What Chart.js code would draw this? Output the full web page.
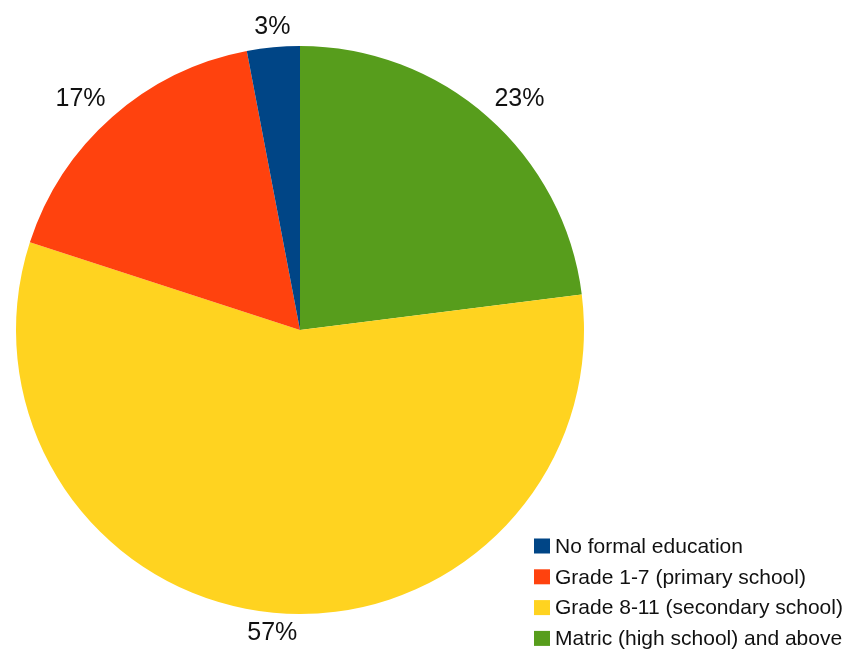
<!DOCTYPE html>
<html lang="en">
<head>
    <meta charset="UTF-8">
    <title>Education level</title>
    <style>
        body {
            margin: 0;
            background: #ffffff;
        }
        #eduChart {
            display: block;
        }
    </style>
</head>
<body>
    <canvas id="eduChart" width="853" height="650"></canvas>
    <script src="https://cdn.jsdelivr.net/npm/chart.js"></script>
    <script>
        // legend order
        const categories = [
            'No formal education',
            'Grade 1-7 (primary school)',
            'Grade 8-11 (secondary school)',
            'Matric (high school) and above'
        ];
        const shares = [3, 17, 57, 23];
        const colours = ['#004586', '#ff420e', '#ffd320', '#579d1c'];

        // slices run counter-clockwise from 12 o'clock, so feed them reversed
        const sliceLabels = categories.slice().reverse();
        const sliceValues = shares.slice().reverse();
        const sliceColours = colours.slice().reverse();

        const labelFont = '25px "Liberation Sans", Arial, sans-serif';
        const legendFont = '21px "Liberation Sans", Arial, sans-serif';

        // percentage text just outside each slice; the text box is hung off an
        // anchor on the slice's middle ray, aligned by which of 8 sectors it is in
        const percentLabels = {
            id: 'percentLabels',
            afterDatasetsDraw(chart) {
                const ctx = chart.ctx;
                const meta = chart.getDatasetMeta(0);
                const values = chart.data.datasets[0].data;
                ctx.save();
                ctx.font = labelFont;
                ctx.fillStyle = '#111111';
                ctx.textAlign = 'center';
                ctx.textBaseline = 'middle';
                meta.data.forEach((arc, i) => {
                    const p = arc.getProps(['x', 'y', 'startAngle', 'endAngle', 'outerRadius'], true);
                    const mid = (p.startAngle + p.endAngle) / 2;
                    const text = values[i] + '%';
                    const w = ctx.measureText(text).width;
                    const h = 20;
                    const r = p.outerRadius + 10;
                    const ax = p.x + Math.cos(mid) * r;
                    const ay = p.y + Math.sin(mid) * r;
                    // degrees clockwise from 12 o'clock
                    let deg = (mid * 180 / Math.PI + 90) % 360;
                    if (deg < 0) deg += 360;
                    const sector = Math.round(deg / 45) % 8;
                    let dx = 0, dy = 0;
                    if (sector >= 1 && sector <= 3) dx = w / 2;
                    if (sector >= 5 && sector <= 7) dx = -w / 2;
                    if (sector === 7 || sector === 0 || sector === 1) dy = -h / 2;
                    if (sector >= 3 && sector <= 5) dy = h / 2;
                    ctx.fillText(text, ax + dx, ay + dy);
                });
                ctx.restore();
            }
        };

        // legend box in the lower right corner
        const cornerLegend = {
            id: 'cornerLegend',
            afterDraw(chart) {
                const ctx = chart.ctx;
                ctx.save();
                ctx.font = legendFont;
                ctx.textAlign = 'left';
                ctx.textBaseline = 'middle';
                categories.forEach((name, i) => {
                    const y = 546 + i * 30.8;
                    ctx.fillStyle = colours[i];
                    ctx.fillRect(534, y - 7.5, 16, 15);
                    ctx.fillStyle = '#111111';
                    ctx.fillText(name, 555, y + 1);
                });
                ctx.restore();
            }
        };

        new Chart(document.getElementById('eduChart'), {
            type: 'pie',
            data: {
                labels: sliceLabels,
                datasets: [{
                    data: sliceValues,
                    backgroundColor: sliceColours,
                    borderWidth: 0
                }]
            },
            options: {
                responsive: false,
                animation: false,
                layout: {
                    padding: { left: 16, right: 269, top: 46, bottom: 36 }
                },
                plugins: {
                    legend: { display: false },
                    tooltip: { enabled: false }
                }
            },
            plugins: [percentLabels, cornerLegend]
        });
    </script>
</body>
</html>
